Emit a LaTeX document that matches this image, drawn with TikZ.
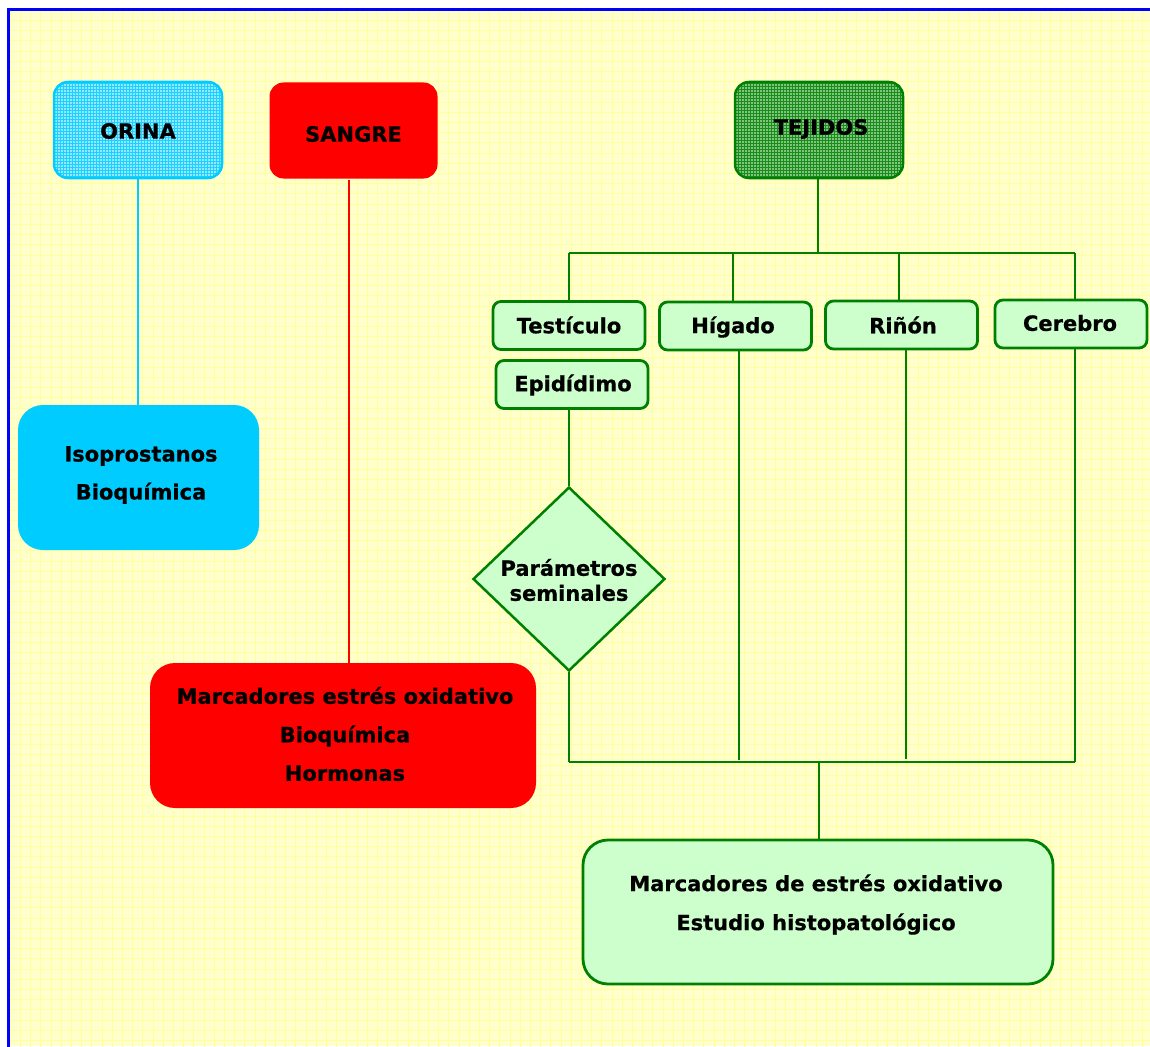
\documentclass[tikz,border=0pt]{standalone}
\usepackage{fontspec}
\setmainfont{DejaVu Sans}
\newfontfamily\heavyfont{DejaVu Sans Bold}[FakeBold=0.7]
\usetikzlibrary{shapes.geometric,patterns}
\definecolor{bgy}{HTML}{FFFFCC}
\definecolor{gridy}{HTML}{FFFFA0}
\definecolor{frameb}{HTML}{0000FF}
\definecolor{cyanc}{HTML}{00CCFF}
\definecolor{cyanl}{HTML}{99E6FF}
\definecolor{cyanp}{HTML}{1AD1FF}
\definecolor{gline}{HTML}{008000}
\definecolor{gmid}{HTML}{7FC47F}
\definecolor{gpat}{HTML}{1A8C1A}
\definecolor{gfill}{HTML}{CCFFCC}
\definecolor{redc}{HTML}{FF0000}
\tikzset{
  txt/.style={font=\heavyfont\fontsize{21}{25}\selectfont, inner sep=0pt, align=center},
  topbox/.style={rounded corners=14pt, minimum width=168pt, minimum height=96pt, inner sep=0pt, line width=2.5pt},
  smallbox/.style={draw=gline, fill=gfill, line width=2.8pt, rounded corners=8pt, minimum width=152pt, minimum height=48pt, inner sep=0pt},
  bigbox/.style={rounded corners=25pt, inner sep=0pt},
  gconn/.style={draw=gline, line width=2.8pt},
  rconn/.style={draw=redc, line width=2pt},
  cconn/.style={draw=cyanc, line width=2.2pt}
}
\begin{document}
\begin{tikzpicture}[x=1pt,y=-1pt]
\useasboundingbox (0,0) rectangle (1150,1046);
\fill[white] (0,0) rectangle (1150,1046);
\fill[bgy] (8,10) rectangle (1150,1046);
\begin{scope}
\clip (8,10) rectangle (1150,1046);
\draw[gridy, line width=0.8pt, step=10.2pt] (8,10) grid (1160,1060);
\end{scope}
\draw[frameb, line width=3pt] (8,1060) -- (8,10) -- (1160,10);

% top boxes
\node[topbox, draw=cyanc, preaction={fill=cyanl}, pattern=grid, pattern color=cyanp] (orina) at (138,130) {};
\node[txt] (orinat) at (138,131) {ORINA};
\node[topbox, fill=redc] (sangre) at (353.5,130.5) {};
\node[txt] (sangret) at (353.5,134) {SANGRE};
\node[topbox, draw=gline, preaction={fill=gmid}, pattern=grid, pattern color=gpat] (tejidos) at (819,130) {};
\node[txt] (tejidost) at (821,129) {TEJIDOS};

% Orina branch
\node[bigbox, fill=cyanc, minimum width=241pt, minimum height=145pt] (iso) at (138.5,477.5) {};
\node[txt] (isot) at (141,475) {Isoprostanos\\[13pt]Bioquímica};
\draw[cconn] (orina.south) -- (orina.south |- iso.north);

% Sangre branch
\node[bigbox, fill=redc, minimum width=386pt, minimum height=145pt] (rb) at (343,735.5) {};
\node[txt] (rbt) at (345,734) {Marcadores estrés oxidativo\\[13.5pt]Bioquímica\\[13.5pt]Hormonas};
\draw[rconn] ([xshift=-4.5pt]sangre.south) -- ([xshift=-4.5pt]sangre.south |- rb.north);

% Tejidos branch
\node[smallbox] (test) at (569,325.5) {};
\node[txt] at (569,325) (testt) {Testículo};
\node[smallbox] (hig) at (735.5,326) {};
\node[txt] at (733,327) (higt) {Hígado};
\node[smallbox] (rin) at (901.5,325) {};
\node[txt] at (903,325) (rint) {Riñón};
\node[smallbox] (cer) at (1071,324) {};
\node[txt] at (1070,323) (cert) {Cerebro};
\node[smallbox] (epi) at (572,384.5) {};
\node[txt] at (573,385) (epit) {Epidídimo};
\node[diamond, draw=gline, fill=gfill, line width=2.5pt, minimum width=192pt, minimum height=184pt, inner sep=0pt] (par) at (569,579) {};
\node[txt] (part) at (569,580) {Parámetros\\[0pt]seminales};

\coordinate (tb) at (818,253);
\coordinate (tl) at (569,253);
\coordinate (tr) at (1075,253);
\draw[gconn] (tejidos.south -| tb) -- (tb);
\draw[gconn] (tl) -- (tr);
\draw[gconn] (tl) -- (tl |- test.north);
\draw[gconn] (733,253) -- (733,302);
\draw[gconn] (899,253) -- (899,301);
\draw[gconn] (tr) -- (tr |- cer.north);
\draw[gconn] (epi.south -| par.north) -- (par.north);

\coordinate (bl) at (569,762);
\coordinate (br) at (1075,762);
\coordinate (bm) at (819,762);
\draw[gconn] (par.south) -- (bl);
\draw[gconn] (739,350) -- (739,760);
\draw[gconn] (906,349) -- (906,759);
\draw[gconn] (br |- cer.south) -- (br);
\draw[gconn] (bl) -- (br);

\node[bigbox, draw=gline, fill=gfill, line width=2.8pt, minimum width=470pt, minimum height=144pt] (fin) at (818,912) {};
\node[txt] (fint) at (816,904.5) {Marcadores de estrés oxidativo\\[14pt]Estudio histopatológico};
\draw[gconn] (bm) -- (bm |- fin.north);
\end{tikzpicture}
\end{document}
